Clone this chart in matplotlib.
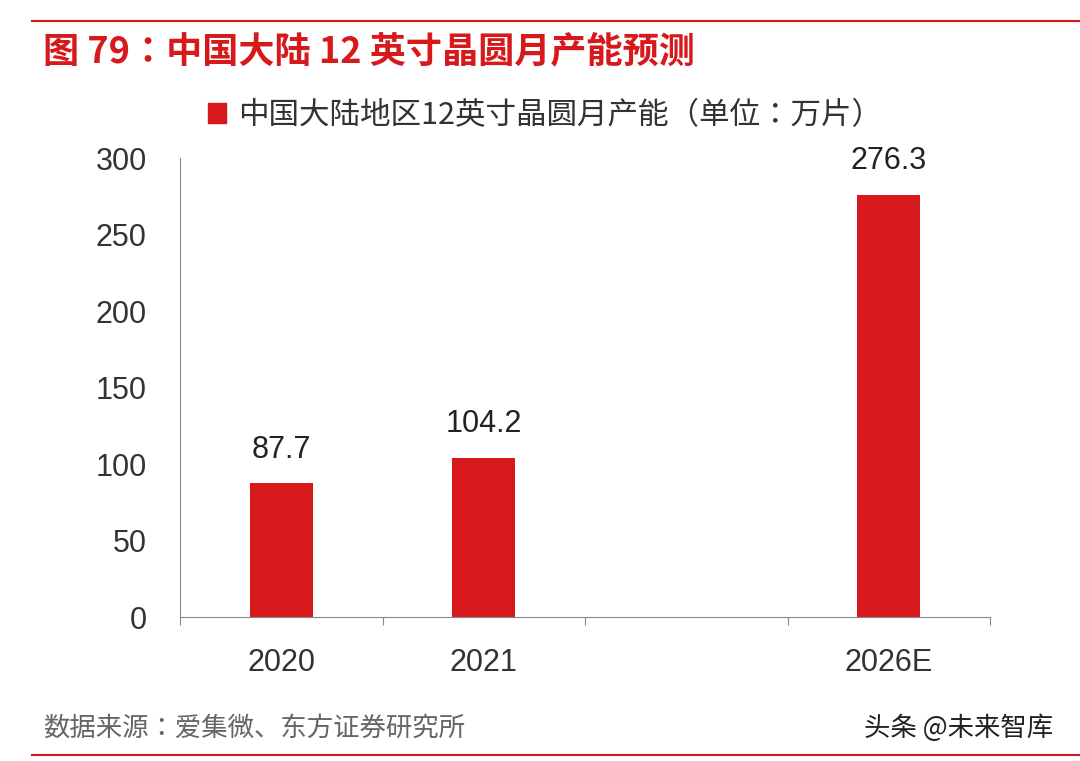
import matplotlib
matplotlib.use("Agg")
import matplotlib.pyplot as plt
from matplotlib import font_manager
from matplotlib.patches import Patch
import numpy as np

cjk = [f for f in font_manager.findSystemFonts() if "CJK" in f or "cjk" in f.lower()]
names = []
for f in cjk:
    try:
        font_manager.fontManager.addfont(f)
        names.append(font_manager.FontProperties(fname=f).get_name())
    except Exception:
        pass
sc = sorted(n for n in names if "Sans" in n and "SC" in n) or sorted(n for n in names if "Sans" in n) or names
plt.rcParams["font.family"] = "sans-serif"
plt.rcParams["font.sans-serif"] = sc[:1] + ["DejaVu Sans"]
NUM = "Liberation Sans"
RED = "#d7191c"

categories = ["2020", "2021", "", "2026E"]
values = [87.7, 104.2, None, 276.3]
labels = ["87.7", "104.2", "", "276.3"]

fig = plt.figure(figsize=(10.8, 7.61), dpi=100)
ax = fig.add_axes([0.1667, 0.189, 0.75, 0.603])
x = np.arange(len(categories))
for xi, v, lab in zip(x, values, labels):
    if v is None:
        continue
    ax.bar(xi, v, 0.31, color=RED)
    ax.text(xi, v + 12, lab, ha="center", va="bottom", fontsize=22, color="#222222", family=NUM)

ax.set_xlim(-0.5, 3.5)
ax.set_ylim(0, 300)
ax.set_yticks(range(0, 301, 50))
ax.set_yticklabels([str(v) for v in range(0, 301, 50)], family=NUM)
ax.tick_params(axis="y", labelsize=22, length=0, pad=24, colors="#333333")
ax.set_xticks(np.arange(-0.5, 3.6, 1))
ax.set_xticklabels([])
ax.set_xticks(x, minor=True)
ax.set_xticklabels(categories, minor=True, fontsize=22, color="#333333", family=NUM)
ax.tick_params(axis="x", which="major", length=6, direction="out", color="#888888")
ax.tick_params(axis="x", which="minor", length=0, pad=22)
for s in ["top", "right"]:
    ax.spines[s].set_visible(False)
ax.spines["left"].set_color("#888888")
ax.spines["bottom"].set_color("#888888")

ax.legend([Patch(color=RED)], ["中国大陆地区12英寸晶圆月产能（单位：万片）"],
          loc="lower left", bbox_to_anchor=(0.0, 1.0), frameon=False, fontsize=22,
          handlelength=0.6, handleheight=0.6, handletextpad=0.4, labelcolor="#333333")

fig.add_artist(plt.Line2D([0.03, 1.0], [0.972, 0.972], color=RED, lw=1.5))
fig.add_artist(plt.Line2D([0.03, 1.0], [0.008, 0.008], color=RED, lw=1.5))
fig.text(0.04, 0.932, "图 79：中国大陆 12 英寸晶圆月产能预测", fontsize=26, fontweight="bold",
         color=RED, va="center")
fig.text(0.04, 0.043, "数据来源：爱集微、东方证券研究所", fontsize=19, color="#666666", va="center")
fig.text(0.80, 0.043, "头条 @未来智库", fontsize=19, color="#222222", va="center")
fig.savefig("out.png")
